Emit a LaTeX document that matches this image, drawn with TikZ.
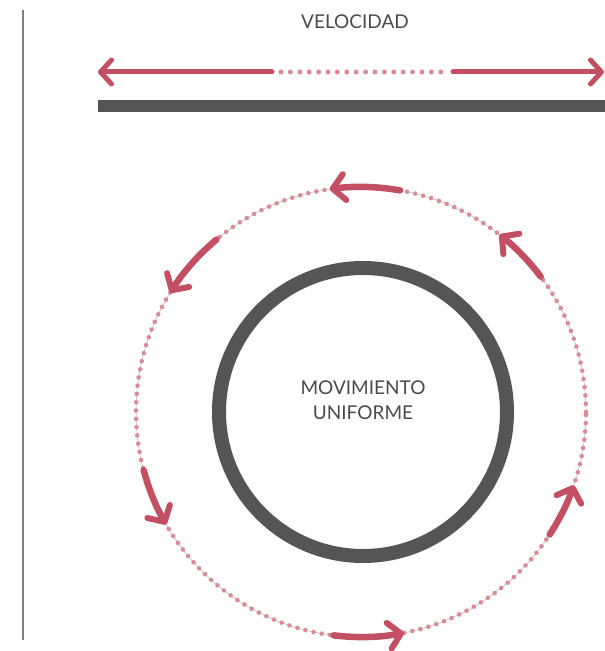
\documentclass[tikz,border=0pt]{standalone}
\usepackage{fontspec}
\setmainfont{Lato}
\usetikzlibrary{arrows.meta}
\definecolor{arrowred}{HTML}{C24F62}
\definecolor{dotpink}{HTML}{D98C98}
\definecolor{ringgray}{HTML}{B0B0B0}
\definecolor{bargray}{HTML}{555555}
\definecolor{textgray}{HTML}{4A4A4A}
\tikzset{
  redarrow/.style={draw=arrowred, line width=5pt, line cap=round,
    -{Straight Barb[length=11pt, width=24pt, line width=5pt, round]}},
  ringarrow/.style={draw=arrowred, line width=6.5pt, line cap=round,
    -{Straight Barb[length=12pt, width=26pt, line width=6pt, round]}},
  dotline/.style={draw=dotpink, line width=5pt, line cap=round, dash pattern=on 0pt off 9.4pt},
  ringdots/.style={draw=dotpink, line width=4.6pt, line cap=round, dash pattern=on 0pt off 8.3pt},
  label/.style={font=\fontsize{19}{25}\selectfont, text=textgray, align=center, inner sep=0pt},
}
\begin{document}
\begin{tikzpicture}[x=1pt,y=1pt]
\useasboundingbox (0,0) rectangle (605,651);
\clip (0,0) rectangle (605,651);
% vertical line
\coordinate (vtop) at (23,641);
\coordinate (vbot) at (23,11);
\draw[gray, line width=1.6pt] (vtop) -- (vbot);
% title
\node[label] (vel) at (355,629) {VELOCIDAD};
% top arrow
\coordinate (al) at (98,579);
\coordinate (a1) at (272,579);
\coordinate (a2) at (281,579);
\coordinate (a3) at (446,579);
\coordinate (a4) at (453,579);
\coordinate (ar) at (604,579);
\draw[redarrow] (a1) -- (al);
\draw[redarrow] (a4) -- (ar);
\draw[dotline] (a2) -- (a3);
% bar
\fill[bargray] (98,539) rectangle (605,551);
% ring
\coordinate (C) at (361,239);
\draw[ringgray, line width=0.5pt] (C) circle[radius=225];
\draw[ringdots] (C) circle[radius=225];
\foreach \s/\e in {37/52, 80/98, 130/148, 195/210, 263/281, 327/341}{
  \draw[ringarrow] ([shift={(C)}]\s:225) arc[start angle=\s, end angle=\e, radius=225];
}
% inner circle
\node[draw=bargray, line width=14pt, circle, minimum size=288pt, inner sep=0pt] (inner) at (363,239) {};
\node[label] (mov) at (363,251) {MOVIMIENTO\\UNIFORME};
\end{tikzpicture}
\end{document}
